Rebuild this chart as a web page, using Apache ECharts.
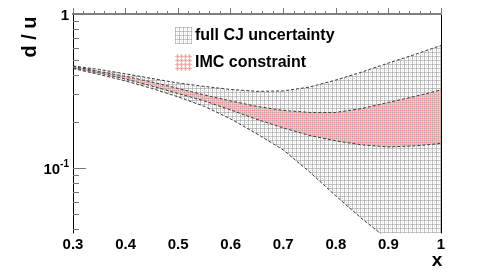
<!DOCTYPE html>
<html><head><meta charset="utf-8">
<script src="https://cdn.jsdelivr.net/npm/echarts@6/dist/echarts.min.js"></script>
<style>html,body{margin:0;padding:0;background:#fff}#c{width:491px;height:274px}</style>
</head><body><div id="c"></div>
<script>
// ---- data ----
const xValues   = [0.30, 0.35, 0.40, 0.45, 0.50, 0.55, 0.60, 0.65, 0.70, 0.75, 0.80, 0.85, 0.90, 0.95, 1.00];
const fullUpper = [0.460, 0.437, 0.409, 0.382, 0.357, 0.339, 0.324, 0.315, 0.317, 0.336, 0.373, 0.421, 0.481, 0.546, 0.625];
const fullLower = [0.443, 0.405, 0.368, 0.329, 0.290, 0.2515, 0.2087, 0.1668, 0.1314, 0.0946, 0.0661, 0.0469, 0.0343, 0.0262, 0.0213];
const imcUpper  = [0.457, 0.424, 0.394, 0.3625, 0.329, 0.2985, 0.273, 0.2515, 0.237, 0.230, 0.230, 0.244, 0.267, 0.292, 0.322];
const imcLower  = [0.447, 0.415, 0.379, 0.341, 0.305, 0.273, 0.2386, 0.2072, 0.1825, 0.1632, 0.1503, 0.1416, 0.1374, 0.1395, 0.1447];
const seriesNames = ['full CJ uncertainty', 'IMC constraint'];
const xTickLabels = ['0.3', '0.4', '0.5', '0.6', '0.7', '0.8', '0.9', '1'];
const yMajorTicks = [0.1, 1];
const yMinorTicks = [0.04, 0.05, 0.06, 0.07, 0.08, 0.09, 0.2, 0.3, 0.4, 0.5, 0.6, 0.7, 0.8, 0.9];
const yMin = 0.038, yMax = 1;

// ---- hatch patterns ----
function makePattern(size, painter) {
  const c = document.createElement('canvas');
  c.width = c.height = size;
  const g = c.getContext('2d');
  painter(g, size);
  return { image: c, repeat: 'repeat' };
}
const grayPattern = makePattern(4, (g, s) => {
  g.fillStyle = 'rgba(150,150,150,0.55)';
  for (let i = 0; i < s; i++) { g.fillRect(i, 0, 1, 1); g.fillRect(0, i, 1, 1); }
  g.fillStyle = 'rgba(150,150,150,0.4)';
  g.fillRect(2, 2, 1, 1);
});
const redPattern = makePattern(4, (g, s) => {
  g.fillStyle = 'rgba(238,120,120,0.55)';
  for (let i = 0; i < s; i++) { g.fillRect(i, 2, 1, 1); g.fillRect(2, i, 1, 1); }
  g.fillStyle = 'rgba(238,120,120,0.35)';
  g.fillRect(1, 1, 1, 1); g.fillRect(3, 3, 1, 1); g.fillRect(1, 3, 1, 1); g.fillRect(3, 1, 1, 1);
});

const FONT = "'Liberation Sans', Arial, Helvetica, sans-serif";
const lg = v => Math.log10(v);

function band(name, upper, lower, pattern, z) {
  return {
    type: 'custom', name, z, xAxisIndex: 0, yAxisIndex: 0, silent: true,
    itemStyle: { color: pattern },
    data: [[xValues[0], upper[0]]],
    renderItem(params, api) {
      const pts = [];
      for (let i = 0; i < xValues.length; i++) pts.push(api.coord([xValues[i], upper[i]]));
      for (let i = xValues.length - 1; i >= 0; i--) pts.push(api.coord([xValues[i], lower[i]]));
      const cs = params.coordSys;
      return {
        type: 'polygon', shape: { points: pts },
        style: { fill: pattern, stroke: null },
        clipPath: { type: 'rect', shape: { x: cs.x, y: cs.y, width: cs.width, height: cs.height } }
      };
    }
  };
}
function edge(arr, z) {
  return {
    type: 'line', z, xAxisIndex: 0, yAxisIndex: 0, silent: true, showSymbol: false, symbol: 'none',
    clip: true,
    data: xValues.map((x, i) => [x, arr[i]]),
    lineStyle: { color: '#3a3a3a', width: 1, type: [3, 2] }
  };
}

const chart = echarts.init(document.getElementById('c'), null, { renderer: 'canvas' });
chart.setOption({
  animation: false,
  backgroundColor: '#fff',
  grid: { left: 73, top: 14, right: 50, bottom: 41, containLabel: false },
  legend: {
    left: 170, top: 22, orient: 'vertical', itemWidth: 17, itemHeight: 17, itemGap: 10,
    textStyle: { fontFamily: FONT, fontWeight: 'bold', fontSize: 16, color: '#000', padding: [0, 0, 0, -2] },
    data: [
      { name: seriesNames[0], icon: 'rect', itemStyle: { color: grayPattern } },
      { name: seriesNames[1], icon: 'rect', itemStyle: { color: redPattern } }
    ],
    selectedMode: false
  },
  xAxis: [
    {
      type: 'value', position: 'bottom', min: 0.3, max: 1, interval: 0.1,
      axisLine: { show: true, lineStyle: { color: '#777', width: 2 } },
      axisTick: { show: true, inside: true, length: 6, lineStyle: { color: '#777' } },
      minorTick: { show: true, splitNumber: 5, length: 3, lineStyle: { color: '#777' } },
      splitLine: { show: false },
      axisLabel: {
        margin: 4, color: '#000', fontFamily: FONT, fontWeight: 'bold', fontSize: 15,
        formatter: v => xTickLabels[Math.round((v - 0.3) * 10)]
      }
    },
    {
      type: 'value', position: 'top', min: 0.3, max: 1,
      axisLine: { show: true, lineStyle: { color: '#808080', width: 2 } },
      axisTick: { show: false }, axisLabel: { show: false }, splitLine: { show: false }
    }
  ],
  yAxis: [
    { type: 'log', logBase: 10, min: yMin, max: yMax, show: false, splitLine: { show: false } },
    {
      type: 'value', position: 'left', min: lg(yMin), max: lg(yMax),
      axisLine: { show: true, lineStyle: { color: '#000', width: 1 } },
      axisTick: { show: true, inside: true, length: 13, lineStyle: { color: '#777' }, customValues: yMajorTicks.map(lg) },
      splitLine: { show: false },
      axisLabel: {
        margin: 4, customValues: yMajorTicks.map(lg),
        formatter: v => Math.abs(v) < 1e-9 ? '{b|1}' : '{b|10}{s|' + Math.round(v) + '}',
        rich: {
          b: { fontFamily: FONT, fontWeight: 'bold', fontSize: 15, color: '#000', verticalAlign: 'bottom', lineHeight: 18 },
          s: { fontFamily: FONT, fontWeight: 'bold', fontSize: 10, color: '#000', verticalAlign: 'top', lineHeight: 18 }
        }
      }
    },
    {
      type: 'value', position: 'left', min: lg(yMin), max: lg(yMax),
      axisLine: { show: false },
      axisTick: { show: true, inside: true, length: 6, lineStyle: { color: '#777' }, customValues: yMinorTicks.map(lg) },
      axisLabel: { show: false }, splitLine: { show: false }
    },
    {
      type: 'value', position: 'right', min: lg(yMin), max: lg(yMax),
      axisLine: { show: true, lineStyle: { color: '#000', width: 1 } },
      axisTick: { show: false }, axisLabel: { show: false }, splitLine: { show: false }
    }
  ],
  graphic: [
    { type: 'text', x: 30, y: 37, rotation: Math.PI / 2,
      style: { text: 'd / u', font: "bold 20px 'Liberation Sans', Arial, sans-serif", fill: '#000', textAlign: 'center', textVerticalAlign: 'middle' } },
    { type: 'text', x: 437, y: 261,
      style: { text: 'x', font: "bold 19px 'Liberation Sans', Arial, sans-serif", fill: '#000', textAlign: 'center', textVerticalAlign: 'middle' } }
  ],
  series: [
    band(seriesNames[0], fullUpper, fullLower, grayPattern, 2),
    band(seriesNames[1], imcUpper, imcLower, redPattern, 3),
    edge(fullUpper, 5), edge(fullLower, 5), edge(imcUpper, 5), edge(imcLower, 5)
  ]
});
</script></body></html>
